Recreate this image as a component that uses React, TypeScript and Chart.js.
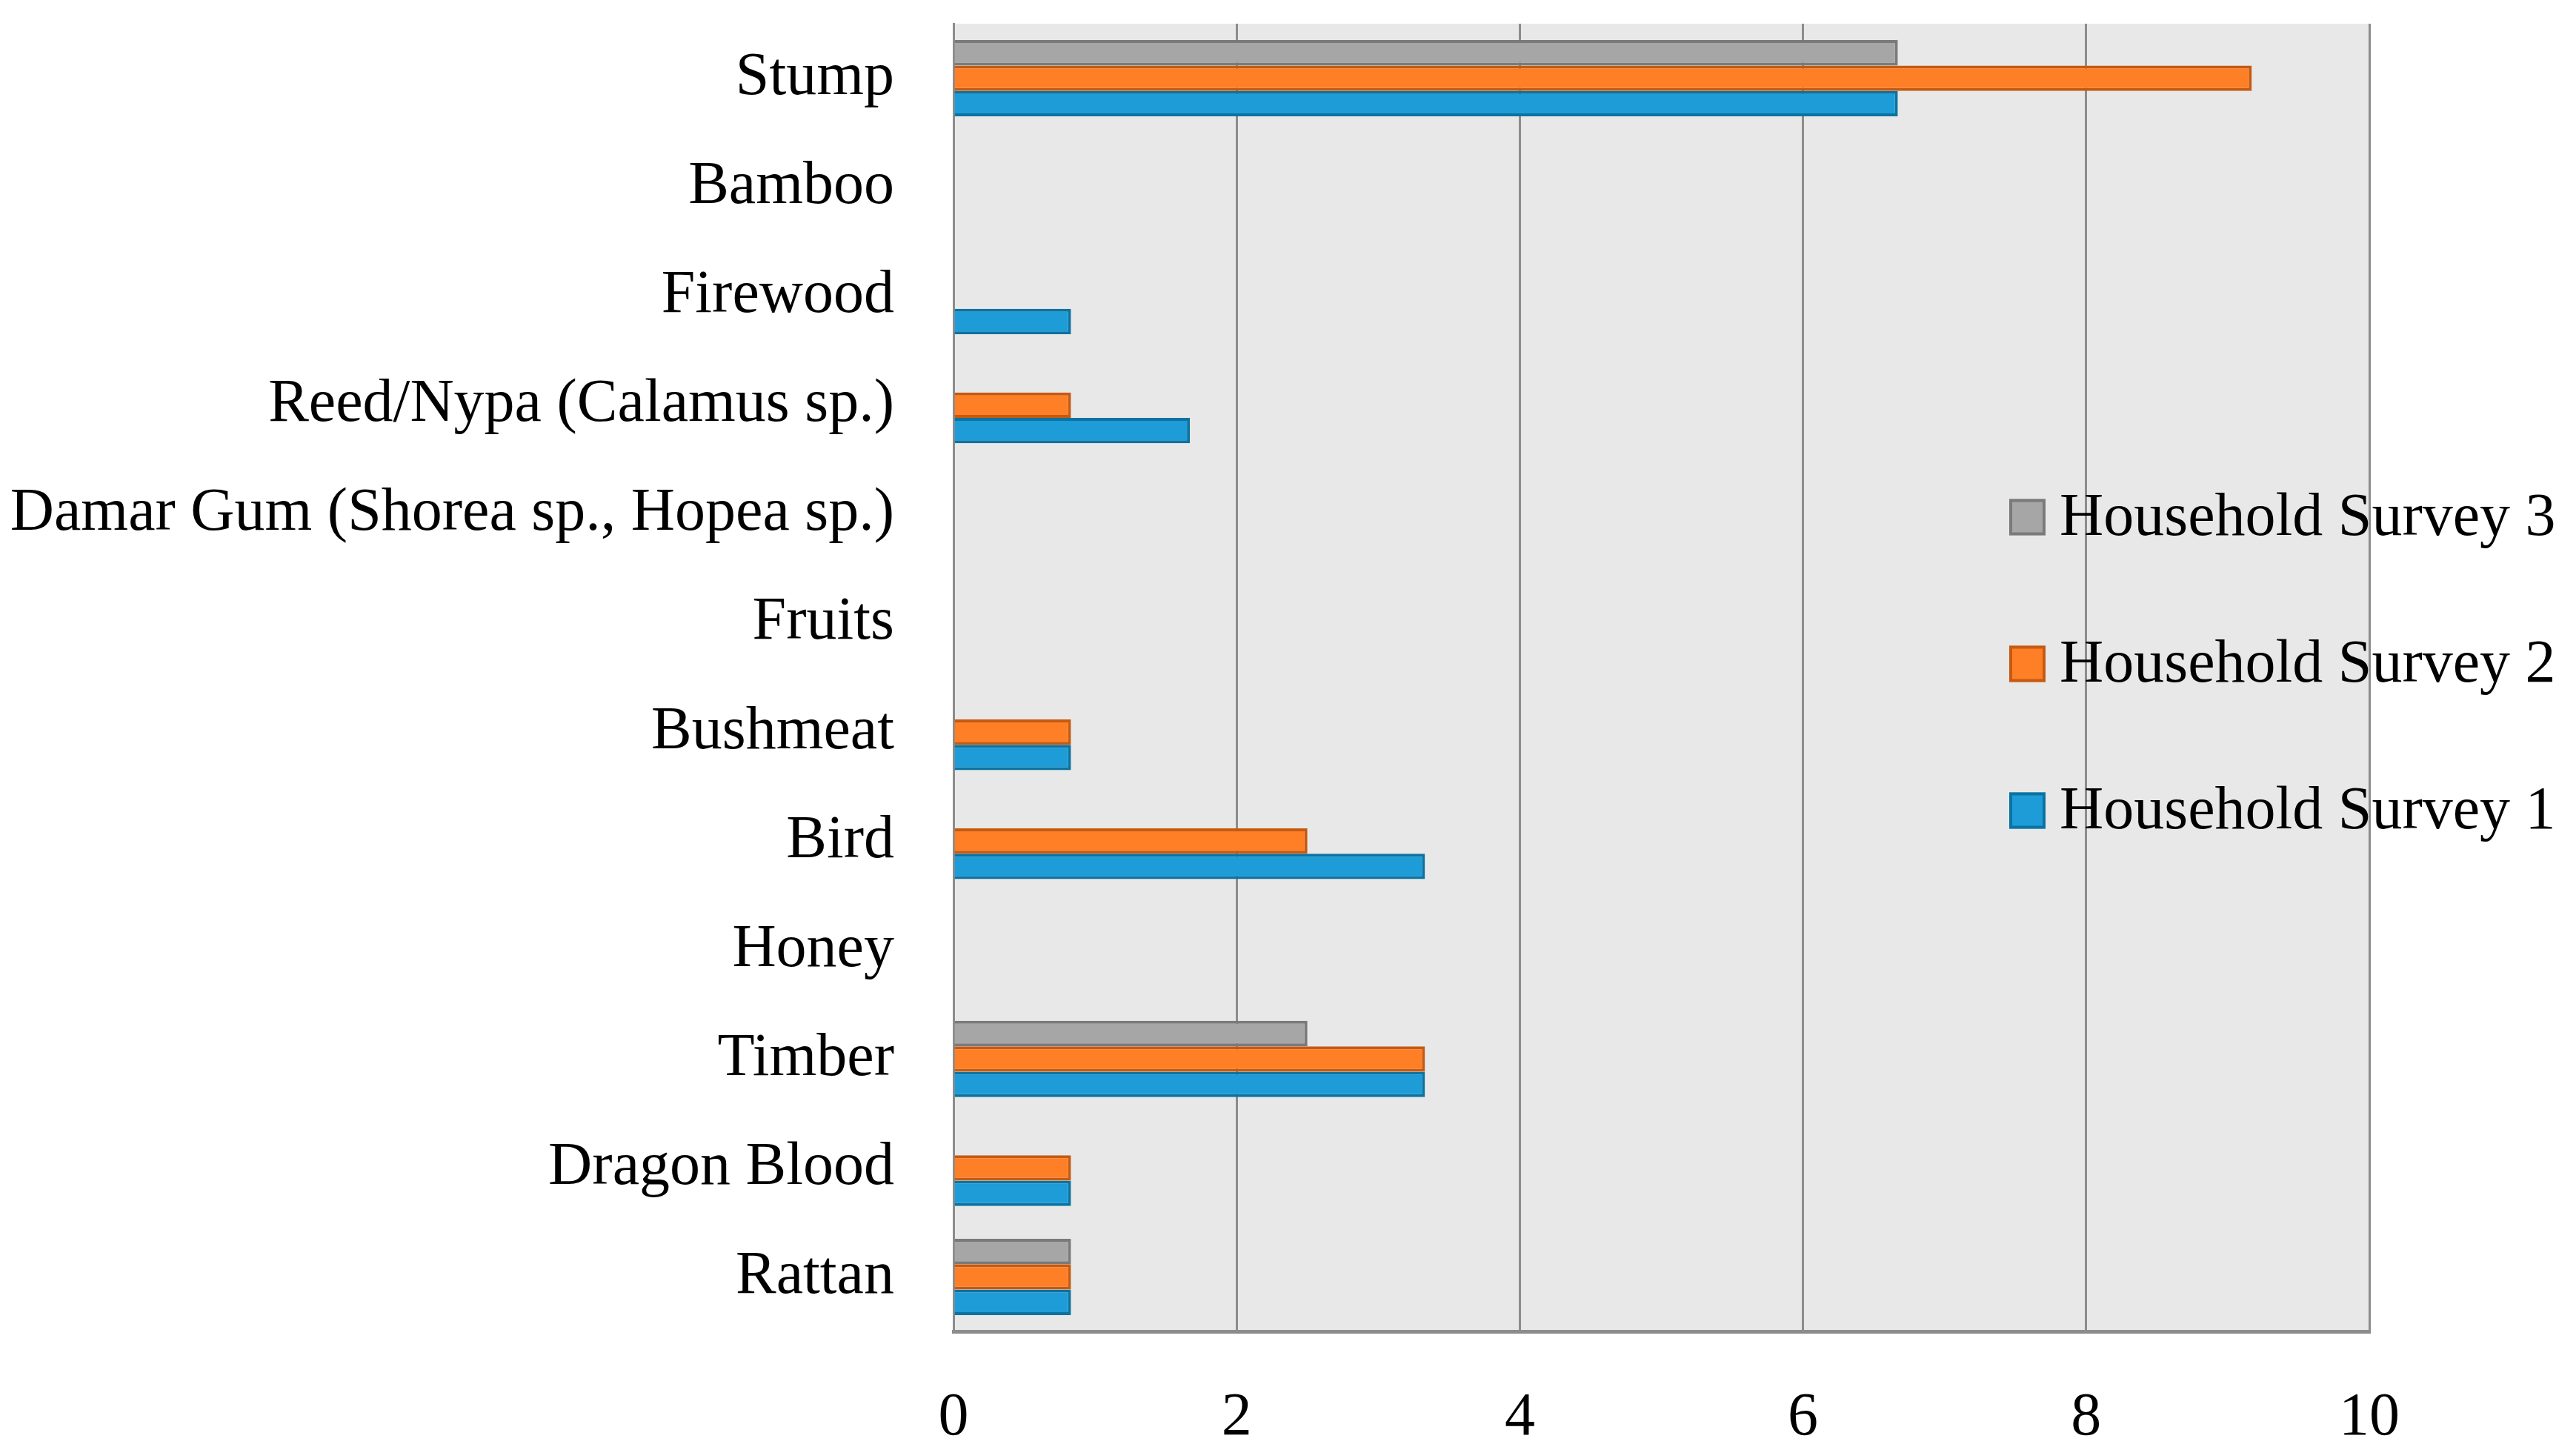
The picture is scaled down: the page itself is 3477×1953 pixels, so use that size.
import React, { useEffect, useRef } from "react";
import { Chart, registerables } from "chart.js";

Chart.register(...registerables);

// categories, top to bottom
const categories = [
  "Stump",
  "Bamboo",
  "Firewood",
  "Reed/Nypa (Calamus sp.)",
  "Damar Gum (Shorea sp., Hopea sp.)",
  "Fruits",
  "Bushmeat",
  "Bird",
  "Honey",
  "Timber",
  "Dragon Blood",
  "Rattan",
];
const survey3 = [6.67, 0, 0, 0, 0, 0, 0, 0, 0, 2.5, 0, 0.83];
const survey2 = [9.17, 0, 0, 0.83, 0, 0, 0.83, 2.5, 0, 3.33, 0.83, 0.83];
const survey1 = [6.67, 0, 0.83, 1.67, 0, 0, 0.83, 3.33, 0, 3.33, 0.83, 0.83];
const seriesNames = ["Household Survey 3", "Household Survey 2", "Household Survey 1"];
const xTicks = [0, 2, 4, 6, 8, 10];

const FONT = "'Liberation Serif', 'Times New Roman', serif";

const plotBackground = {
  id: "plotBackground",
  beforeDraw(chart: any) {
    const { ctx, chartArea } = chart;
    ctx.save();
    ctx.fillStyle = "#e8e8e8";
    ctx.fillRect(chartArea.left, chartArea.top, chartArea.right - chartArea.left, chartArea.bottom - chartArea.top);
    ctx.restore();
  },
};

// legend drawn over the right part of the plot
const floatingLegend = {
  id: "floatingLegend",
  afterDraw(chart: any) {
    const { ctx } = chart;
    const boxX = 2712;
    const textX = 2780;
    const size = 49;
    const rows = [698, 896, 1094];
    ctx.save();
    chart.data.datasets.forEach((ds: any, i: number) => {
      const cy = rows[i];
      ctx.fillStyle = ds.backgroundColor;
      ctx.fillRect(boxX, cy - size / 2, size, size);
      ctx.strokeStyle = ds.borderColor;
      ctx.lineWidth = 4;
      ctx.strokeRect(boxX + 2, cy - size / 2 + 2, size - 4, size - 4);
      ctx.fillStyle = "#000";
      ctx.font = `82px ${FONT}`;
      ctx.textBaseline = "middle";
      ctx.textAlign = "left";
      ctx.fillText(ds.label, textX, cy + 2);
    });
    ctx.restore();
  },
};

const App: React.FC = () => {
  const chartRef = useRef<HTMLCanvasElement>(null);

  useEffect(() => {
    if (!chartRef.current) return;
    const ctx = chartRef.current.getContext("2d");
    if (!ctx) return;

    const chart = new Chart(ctx, {
      type: "bar",
      data: {
        labels: categories,
        datasets: [
          {
            label: seriesNames[0],
            data: survey3,
            backgroundColor: "#a6a6a6",
            borderColor: "#7a7a7a",
            borderWidth: 4,
          },
          {
            label: seriesNames[1],
            data: survey2,
            backgroundColor: "#ff7f27",
            borderColor: "#c55a11",
            borderWidth: 4,
          },
          {
            label: seriesNames[2],
            data: survey1,
            backgroundColor: "#1d9cd8",
            borderColor: "#0c73a0",
            borderWidth: 4,
          },
        ],
      },
      options: {
        indexAxis: "y",
        animation: false,
        responsive: true,
        maintainAspectRatio: false,
        datasets: {
          bar: {
            categoryPercentage: 0.7,
            barPercentage: 1,
          },
        },
        layout: {
          padding: { top: 32, right: 279, bottom: 0, left: 0 },
        },
        scales: {
          x: {
            min: xTicks[0],
            max: xTicks[xTicks.length - 1],
            ticks: {
              stepSize: xTicks[1] - xTicks[0],
              color: "#000",
              padding: 68,
              font: { family: FONT, size: 82 },
            },
            grid: {
              color: "#8c8c8c",
              lineWidth: 3,
              drawTicks: false,
            },
            border: { color: "#8c8c8c", width: 5 },
            afterFit: (axis: any) => {
              axis.height = 156;
            },
          },
          y: {
            ticks: {
              color: "#000",
              padding: 80,
              font: { family: FONT, size: 82 },
            },
            grid: { display: false, drawTicks: false },
            border: { color: "#8c8c8c", width: 3 },
            afterFit: (axis: any) => {
              axis.width = 1287;
              axis.paddingTop = 0;
              axis.paddingBottom = 0;
            },
          },
        },
        plugins: {
          legend: { display: false },
          tooltip: { enabled: false },
        },
      },
      plugins: [plotBackground, floatingLegend],
    });

    return () => {
      chart.destroy();
    };
  }, []);

  return (
    <div style={{ position: "fixed", left: 0, top: 0, width: "100vw", height: "100vh", background: "#fff" }}>
      <canvas ref={chartRef} />
    </div>
  );
};

export default App;
